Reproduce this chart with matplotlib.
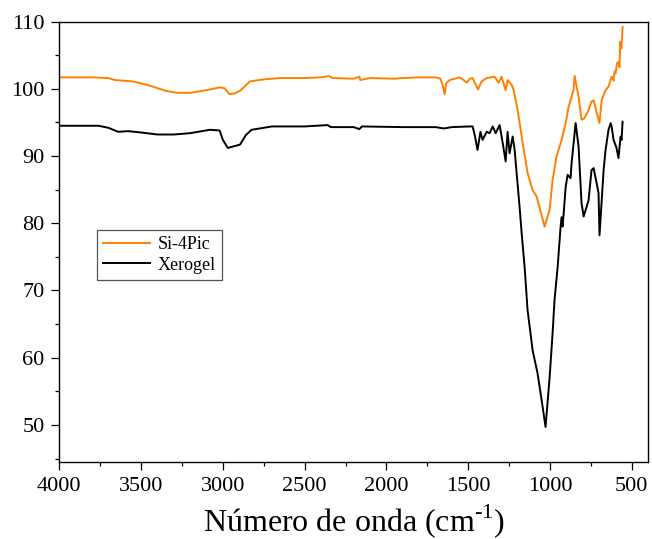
import matplotlib
matplotlib.use("Agg")
import matplotlib.pyplot as plt
from matplotlib.ticker import MultipleLocator

plt.rcParams['font.family'] = ['Liberation Serif', 'DejaVu Serif']
plt.rcParams['mathtext.fontset'] = 'custom'
plt.rcParams['mathtext.rm'] = 'Liberation Serif'

# Si-4Pic spectrum (wavenumber cm-1, transmittance %)
si_wn = [4000, 3800, 3700, 3660, 3550, 3450, 3350, 3280, 3200, 3100, 3020, 2990,
         2960, 2930, 2895, 2860, 2835, 2750, 2650, 2500, 2400, 2350, 2330, 2200,
         2165, 2160, 2100, 1950, 1900, 1800, 1700, 1670, 1655, 1644, 1635, 1613,
         1552, 1522, 1509, 1490, 1473, 1440, 1418, 1387, 1338, 1314, 1296, 1271,
         1259, 1234, 1222, 1198, 1167, 1137, 1106, 1082, 1051, 1033, 1002, 984,
         960, 929, 904, 886, 868, 856, 849, 825, 807, 790, 764, 746, 733, 715,
         697, 684, 660, 642, 623, 611, 605, 599, 590, 581, 575, 570, 563, 556]
si_t = [101.7, 101.7, 101.6, 101.3, 101.1, 100.5, 99.7, 99.4, 99.4, 99.8, 100.2, 100.1,
        99.2, 99.3, 99.7, 100.5, 101.1, 101.4, 101.6, 101.6, 101.7, 101.9, 101.6, 101.5,
        101.8, 101.3, 101.6, 101.5, 101.6, 101.7, 101.7, 101.5, 100.5, 99.2, 100.8, 101.3,
        101.7, 101.2, 100.9, 101.5, 101.6, 99.9, 101.1, 101.6, 101.8, 100.9, 101.8, 99.8,
        101.3, 100.6, 99.8, 96.9, 92.0, 87.5, 84.9, 84.0, 81.2, 79.5, 82.0, 86.4,
        89.9, 92.4, 94.9, 97.3, 98.8, 99.8, 101.9, 98.8, 95.4, 95.6, 96.8, 98.1, 98.3, 96.5,
        94.9, 98.3, 99.8, 100.3, 101.8, 101.2, 102.6, 102.3, 103.8, 104.0, 103.2, 107.0, 106.0, 109.2]

# Xerogel spectrum
xe_wn = [4000, 3760, 3700, 3640, 3580, 3500, 3400, 3300, 3200, 3080, 3020, 3000,
         2970, 2940, 2895, 2860, 2825, 2700, 2500, 2360, 2340, 2200, 2165, 2150,
         1900, 1700, 1650, 1600, 1490, 1473, 1458, 1443, 1425, 1412, 1387, 1369,
         1350, 1332, 1308, 1290, 1271, 1259, 1247, 1228, 1216, 1204, 1186, 1173,
         1155, 1137, 1106, 1076, 1051, 1027, 1002, 984, 972, 953, 935, 929,
         923, 916, 904, 892, 874, 868, 843, 825, 807, 794, 764, 746,
         733, 715, 703, 697, 672, 660, 642, 629, 623, 611, 593, 581,
         568, 562, 556]
xe_t = [94.5, 94.5, 94.2, 93.6, 93.7, 93.5, 93.2, 93.2, 93.4, 93.9, 93.8, 92.4,
        91.2, 91.4, 91.7, 93.1, 93.9, 94.4, 94.4, 94.6, 94.3, 94.3, 94.0, 94.4,
        94.3, 94.3, 94.1, 94.3, 94.4, 94.4, 92.9, 90.9, 93.6, 92.4, 93.6, 93.4,
        94.4, 93.4, 94.6, 92.1, 89.2, 93.6, 90.4, 92.9, 90.9, 87.5, 82.5, 78.5,
        73.5, 67.1, 61.1, 57.7, 53.7, 49.7, 57.1, 63.6, 68.6, 73.5, 79.5, 80.9,
        79.5, 81.5, 85.4, 87.2, 86.7, 88.9, 94.9, 91.4, 83.0, 81.0, 83.4, 87.9,
        88.2, 86.0, 84.5, 78.2, 87.9, 90.9, 93.9, 94.9, 94.4, 92.4, 91.2, 89.7,
        92.9, 92.4, 95.1]

fig = plt.figure(figsize=(6.52, 5.39), dpi=100)
ax = fig.add_axes([0.091, 0.143, 0.903, 0.817])

ax.plot(si_wn, si_t, color='#ff8000', lw=1.4, label='Si-4Pic')
ax.plot(xe_wn, xe_t, color='black', lw=1.4, label='Xerogel')

ax.set_xlim(4000, 400)
ax.set_ylim(44.5, 110)
ax.xaxis.set_major_locator(MultipleLocator(500))
ax.xaxis.set_minor_locator(MultipleLocator(250))
ax.yaxis.set_major_locator(MultipleLocator(10))
ax.yaxis.set_minor_locator(MultipleLocator(5))
ax.tick_params(which='both', direction='out', top=False, right=False,
               width=0.9, labelsize=16)
ax.tick_params(which='major', length=5.5, pad=5)
ax.tick_params(which='minor', length=3)
for s in ax.spines.values():
    s.set_linewidth(1.0)

ax.set_xlabel('Número de onda (cm$^{\\text{-1}}$)', fontsize=23, labelpad=5)

leg = ax.legend(loc='upper left', bbox_to_anchor=(0.064, 0.527), borderaxespad=0,
                fancybox=False, edgecolor='#555555', framealpha=1, fontsize=13,
                handlelength=2.6, handletextpad=0.4, borderpad=0.35, labelspacing=0.2)
leg.get_frame().set_linewidth(0.9)

fig.savefig('out.png', dpi=100)
